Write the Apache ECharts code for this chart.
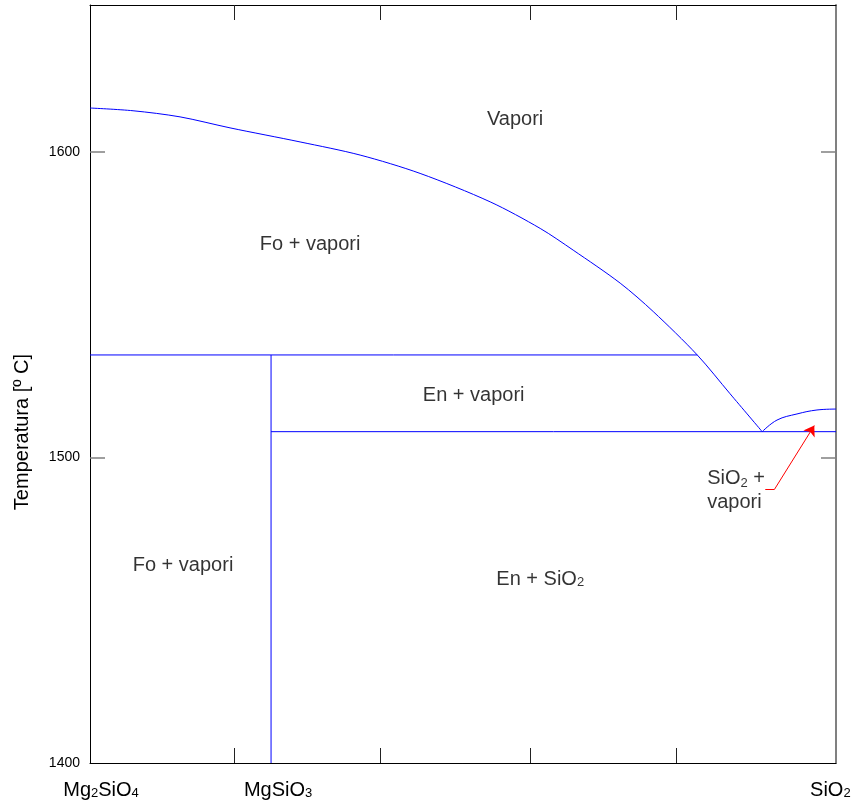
<!DOCTYPE html>
<html><head><meta charset="utf-8">
<script src="https://cdn.jsdelivr.net/npm/echarts@6/dist/echarts.min.js"></script>
<style>html,body{margin:0;padding:0;background:#fff}#c{width:862px;height:806px}</style>
</head><body><div id="c"></div>
<script>
// ---- data ----
const yMin = 1400, yMax = 1648;
const yTickLabels = [1400, 1500, 1600];
const yTickMarks = [1500, 1600];
const xTicks = [19.27, 38.93, 59.05, 78.62];
const compoundPos = [1.48, 25.21, 99.24];
const compoundNames = ['Mg{s|2}SiO{s|4}', 'MgSiO{s|3}', 'SiO{s|2}'];
const vaporCurve = [[0,1614.3],[5.77,1613.4],[12.07,1611.4],[18.77,1607.8],[28.16,1603.2],[36.21,1598.9],[44.25,1592.9],[53.64,1583.6],[60.35,1574.9],[64.77,1567.8],[71.07,1557.0],[75.5,1547.7],[81.4,1533.5],[85.8,1520.8],[90.11,1508.4]];
const foLine = [[0,1533.5],[81.4,1533.5]];
const enVertical = [[24.27,1400],[24.27,1533.5]];
const eutecticLine = [[24.27,1508.4],[100,1508.4]];
const silicaCurve = [[90.11,1508.4],[92.09,1512.2],[94.77,1514.2],[97.45,1515.5],[100,1515.8]];
const arrowTail = [[90.52,1489.6],[91.77,1489.6]];
const arrowShaft = [[91.77,1489.6],[97.09,1510.4]];
const regionLabels = [
  {name:'Vapori', value:[56.99,1610.4]},
  {name:'Fo + vapori', value:[29.5,1569.5]},
  {name:'En + vapori', value:[51.43,1520.4]},
  {name:'Fo + vapori', value:[12.47,1464.5]},
  {name:'En + SiO{s|2}', value:[60.35,1460.2]}
];
const silicaLabel = [{name:'SiO{s|2} +\nvapori', value:[82.74,1489.3]}];
const yName = 'Temperatura [º C]';

const FONT = 'Liberation Sans, Arial, sans-serif';
const rich = { s: { fontSize: 13, fontFamily: FONT, color: '#000', verticalAlign:'bottom' } };
const blue = '#0000ff';
function lineSeries(d, smooth){
  return { type:'line', data:d, showSymbol:false, symbol:'none', smooth:smooth||false, lineStyle:{color:blue,width:1}, silent:true, animation:false, z:3 };
}
const chart = echarts.init(document.getElementById('c'), null, {renderer:'canvas'});
chart.setOption({
  backgroundColor:'#fff',
  animation:false,
  grid:{left:90, right:26, top:5, bottom:43},
  xAxis:[{
    type:'value', min:0, max:100, position:'bottom',
    axisLine:{show:true, onZero:false, lineStyle:{color:'#000', width:1}},
    axisTick:{show:true, inside:true, length:15, customValues:xTicks, lineStyle:{color:'#222'}},
    splitLine:{show:false},
    axisLabel:{show:true, customValues:compoundPos, margin:17, fontSize:20, fontFamily:FONT, color:'#000',
      formatter:function(v){ let bi=0, bd=1e9; compoundPos.forEach((p,i)=>{const d=Math.abs(p-v); if(d<bd){bd=d;bi=i;}}); return compoundNames[bi]; },
      rich:rich}
  },{
    type:'value', min:0, max:100, position:'top',
    axisLine:{show:true, onZero:false, lineStyle:{color:'#000', width:1}},
    axisTick:{show:true, inside:true, length:15, customValues:xTicks, lineStyle:{color:'#222'}},
    axisLabel:{show:false}, splitLine:{show:false}
  }],
  yAxis:[{
    type:'value', min:yMin, max:yMax, position:'left',
    axisLine:{show:true, onZero:false, lineStyle:{color:'#000', width:1}},
    axisTick:{show:true, inside:true, length:15, customValues:yTickMarks, lineStyle:{color:'#808080', width:1.5}},
    axisLabel:{show:true, customValues:yTickLabels, margin:10, fontSize:14, fontFamily:FONT, color:'#000', formatter:v=>String(v)},
    splitLine:{show:false}
  },{
    type:'value', min:yMin, max:yMax, position:'right',
    axisLine:{show:true, onZero:false, lineStyle:{color:'#808080', width:2}},
    axisTick:{show:true, inside:true, length:15, customValues:yTickMarks, lineStyle:{color:'#808080', width:1.5}},
    axisLabel:{show:false}, splitLine:{show:false}
  }],
  graphic:[{
    type:'text', x:22, y:432, rotation:Math.PI/2,
    style:{text:yName, fontSize:20, fontFamily:FONT, fill:'#000', align:'center', verticalAlign:'middle'}
  }],
  series:[
    lineSeries(vaporCurve, 0.3),
    lineSeries(foLine),
    lineSeries(enVertical),
    lineSeries(eutecticLine),
    lineSeries(silicaCurve, 0.4),
    {
      type:'lines', coordinateSystem:'cartesian2d', silent:true,
      data:[{coords:arrowTail}],
      lineStyle:{color:'#ff0000', width:1, opacity:1},
      symbol:['none','none'], z:4
    },
    {
      type:'lines', coordinateSystem:'cartesian2d', silent:true,
      data:[{coords:arrowShaft}],
      lineStyle:{color:'#ff0000', width:1, opacity:1},
      symbol:['none','arrow'], symbolSize:10, z:4
    },
    {
      type:'scatter', data:regionLabels, symbolSize:0, silent:true,
      label:{show:true, position:'inside', formatter:p=>p.name, fontSize:20, fontFamily:FONT, color:'#000', textBorderWidth:0, rich:rich}
    },
    {
      type:'scatter', data:silicaLabel, symbolSize:0, silent:true,
      label:{show:true, position:'inside', align:'left', lineHeight:24, formatter:p=>p.name, fontSize:20, fontFamily:FONT, color:'#000', textBorderWidth:0,
        rich:{s:{fontSize:13,fontFamily:FONT,color:'#000',lineHeight:24,verticalAlign:'bottom'}}}
    }
  ]
});
</script></body></html>
